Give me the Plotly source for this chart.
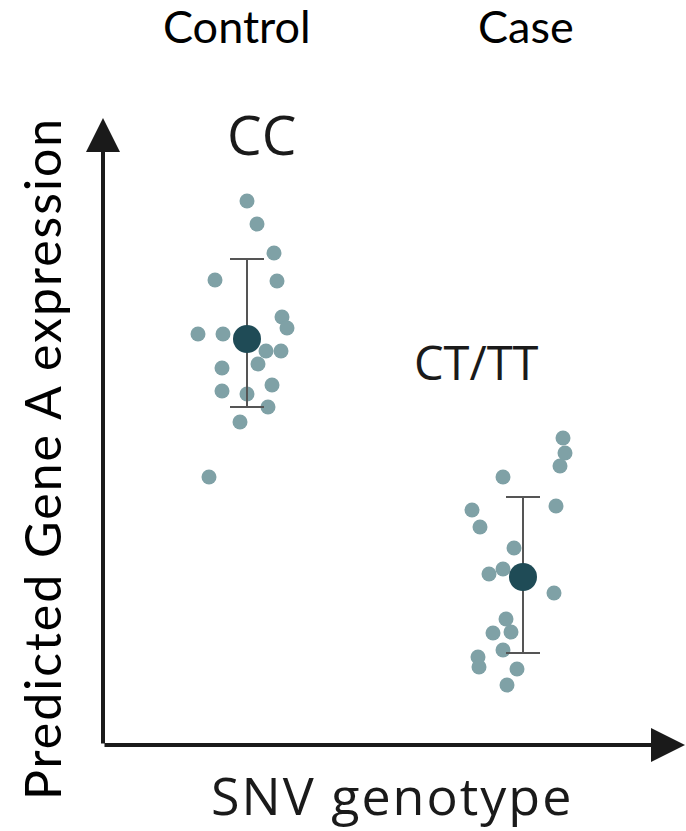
import plotly.graph_objects as go

# ---- data (arbitrary expression units) ----
groups = ["CC", "CT/TT"]
group_headers = ["Control", "Case"]
x_title = "SNV genotype"
y_title = "Predicted Gene A expression"

cc_x = [1.44, 1.54, 1.71, 1.12, 1.74, 1.79, 1.84, 0.95, 1.20, 1.63, 1.78, 1.55, 1.19, 1.69, 1.19, 1.44, 1.65, 1.37, 1.06]
cc_y = [5.44, 5.21, 4.92, 4.65, 4.64, 4.28, 4.17, 4.11, 4.11, 3.94, 3.94, 3.81, 3.77, 3.60, 3.54, 3.51, 3.38, 3.23, 2.68]

ct_x = [4.60, 4.62, 4.57, 4.00, 3.69, 4.53, 3.77, 4.11, 3.86, 4.00, 4.51, 4.03, 3.90, 4.08, 4.00, 3.75, 3.76, 4.14, 4.04]
ct_y = [3.07, 2.92, 2.79, 2.68, 2.35, 2.39, 2.18, 1.97, 1.71, 1.76, 1.52, 1.26, 1.12, 1.13, 0.95, 0.88, 0.78, 0.76, 0.60]

mean_x = [1.44, 4.20]
mean_y = [4.06, 1.68]
err_plus = [0.80, 0.80]
err_minus = [0.68, 0.76]

# ---- layout constants (pixels) ----
W, H = 686, 831
L, T = 103, 118
B = H - 745
R = 0
pw, ph = W - L - R, H - T - B

def px(x):
    return (x - L) / pw

def py(y):
    return (H - B - y) / ph

pt_color = "#7fa1a6"
mean_color = "#1f4b56"
axis_color = "#1a1a1a"

fig = go.Figure()
fig.add_trace(go.Scatter(x=cc_x, y=cc_y, mode="markers",
                         marker=dict(size=15, color=pt_color), hoverinfo="skip"))
fig.add_trace(go.Scatter(x=ct_x, y=ct_y, mode="markers",
                         marker=dict(size=15, color=pt_color), hoverinfo="skip"))
fig.add_trace(go.Scatter(x=mean_x, y=mean_y, mode="markers",
                         marker=dict(size=28, color=mean_color),
                         error_y=dict(type="data", symmetric=False, array=err_plus,
                                      arrayminus=err_minus, color="#555555",
                                      thickness=2, width=17),
                         hoverinfo="skip"))

annotations = []
# axis arrows
annotations.append(dict(x=px(103), y=py(118), xref="paper", yref="paper",
                        ax=0, ay=627, axref="pixel", ayref="pixel", text="",
                        showarrow=True, arrowhead=2, arrowsize=1.7, arrowwidth=4,
                        arrowcolor=axis_color, standoff=0))
annotations.append(dict(x=px(686), y=py(745), xref="paper", yref="paper",
                        ax=-583, ay=0, axref="pixel", ayref="pixel", text="",
                        showarrow=True, arrowhead=2, arrowsize=1.7, arrowwidth=4,
                        arrowcolor=axis_color, standoff=0))

hdr_font = dict(family="Lato", size=45, color="#000000")

annotations.append(dict(x=px(237), y=py(26), xref="paper", yref="paper", text=group_headers[0],
                        showarrow=False, font=hdr_font, xanchor="center", yanchor="middle"))
annotations.append(dict(x=px(526), y=py(26), xref="paper", yref="paper", text=group_headers[1],
                        showarrow=False, font=hdr_font, xanchor="center", yanchor="middle"))
annotations.append(dict(x=px(261), y=py(133), xref="paper", yref="paper", text=groups[0],
                        showarrow=False, font=dict(family="Open Sans", size=55, color="#1a1a1a"),
                        xanchor="center", yanchor="middle"))
annotations.append(dict(x=px(476), y=py(362), xref="paper", yref="paper", text=groups[1],
                        showarrow=False, font=dict(family="Open Sans", size=47, color="#1a1a1a"),
                        xanchor="center", yanchor="middle"))
annotations.append(dict(x=px(392), y=py(794), xref="paper", yref="paper",
                        text='<span style="letter-spacing:2px">' + x_title + '</span>',
                        showarrow=False, font=dict(family="Open Sans", size=52, color="#1a1a1a"),
                        xanchor="center", yanchor="middle"))
annotations.append(dict(x=px(42), y=py(459), xref="paper", yref="paper",
                        text='<span style="letter-spacing:2px">' + y_title + '</span>',
                        textangle=-90,
                        showarrow=False, font=dict(family="Lato", size=50, color="#000000"),
                        xanchor="center", yanchor="middle"))

fig.update_layout(
    width=W, height=H,
    margin=dict(l=L, r=R, t=T, b=B),
    paper_bgcolor="white", plot_bgcolor="white",
    showlegend=False,
    xaxis=dict(range=[0, pw / 100], visible=False, fixedrange=True),
    yaxis=dict(range=[0, ph / 100], visible=False, fixedrange=True),
    annotations=annotations,
)

fig.write_html("out.html", config={"displayModeBar": False},
               post_script="document.body.style.margin='0';document.body.style.overflow='hidden';")
